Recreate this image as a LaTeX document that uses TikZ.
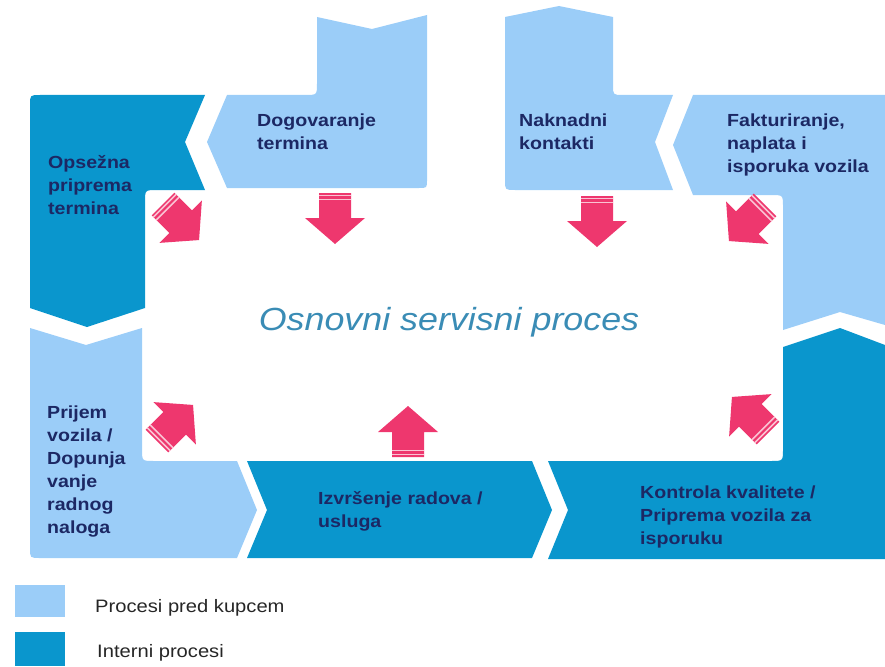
\documentclass[tikz,border=0pt]{standalone}
\usepackage{fontspec}
\setmainfont{Liberation Sans}[FakeStretch=1.12]
\definecolor{custblue}{RGB}{155,205,248}
\definecolor{intblue}{RGB}{10,150,205}
\definecolor{labnavy}{RGB}{28,40,100}
\definecolor{titleblue}{RGB}{58,140,181}
\definecolor{arrpink}{RGB}{238,55,110}
\begin{document}
\begin{tikzpicture}[x=1pt,y=-1pt,
  customer/.style={fill=custblue},
  internal/.style={fill=intblue},
  lab/.style={font=\fontsize{17.5}{23}\selectfont\bfseries,text=labnavy,align=left,anchor=north west,inner sep=0pt},
  legendtext/.style={font=\fontsize{18}{22}\selectfont,text=black!85,anchor=base west,inner sep=0pt},
  stripe/.style={draw=arrpink!30!white,line width=1.6pt}]
  \useasboundingbox (0,0) rectangle (885,666);
  % process shapes
  \fill[internal] (30,308) -- (30,105) .. controls (30,95) .. (40,95) -- (205,95) -- (185,142) -- (205,190)
    -- (157,190) .. controls (145,190) .. (145,202) -- (145,308) -- (87,327) -- cycle;
  \fill[customer] (227,95) -- (305,95) .. controls (317,95) .. (317,83) -- (317,17) -- (372,29) -- (427,15)
    -- (427,180) .. controls (427,188) .. (419,188) -- (227,188) -- (207,142) -- cycle;
  \fill[customer] (505,17) -- (559,6) -- (613,17) -- (613,85) .. controls (613,95) .. (623,95) -- (673,95)
    -- (655,142) -- (673,190) -- (515,190) .. controls (505,190) .. (505,180) -- cycle;
  \fill[customer] (693,95) -- (885,95) -- (885,325) -- (840,312) -- (783,330) -- (783,207)
    .. controls (783,195) .. (771,195) -- (693,195) -- (673,145) -- cycle;
  \fill[customer] (30,328) -- (86,345) -- (142,328) -- (142,449) .. controls (142,461) .. (154,461)
    -- (237,461) -- (257,510) -- (237,558) -- (40,558) .. controls (30,558) .. (30,548) -- cycle;
  \fill[internal] (247,461) -- (532,461) -- (552,510) -- (532,558) -- (247,558) -- (267,510) -- cycle;
  \fill[internal] (548,461) -- (771,461) .. controls (783,461) .. (783,449) -- (783,347) -- (840,328)
    -- (885,345) -- (885,559) -- (548,559) -- (568,510) -- cycle;
  % labels
  \node[lab] (opsezna) at (48,155) {Opsežna\\priprema\\termina};
  \node[lab] (dogovor) at (257,114) {Dogovaranje\\termina};
  \node[lab] (naknadni) at (519,114) {Naknadni\\kontakti};
  \node[lab] (faktura) at (727,114) {Fakturiranje,\\naplata i\\isporuka vozila};
  \node[lab] (prijem) at (47,406) {Prijem\\vozila /\\Dopunja\\vanje\\radnog\\naloga};
  \node[lab] (izvrsenje) at (318,491) {Izvršenje radova /\\usluga};
  \node[lab] (kontrola) at (640,486) {Kontrola kvalitete /\\Priprema vozila za\\isporuku};
  \node[font=\fontsize{32}{36}\selectfont\itshape,text=titleblue,anchor=base,inner sep=0pt] (osnovni) at (449,330) {Osnovni servisni proces};
  % arrows into the core process
  \foreach \px/\py/\ang in {335/193/0, 597/196/0, 163/204/45, 765/205/-45, 157/441/135, 408/457/180, 768/433/-135}{
    \begin{scope}[shift={(\px,\py)},rotate=\ang]
      \fill[arrpink] (-16,0) -- (16,0) -- (16,25) -- (30,25) -- (0,51) -- (-30,25) -- (-16,25) -- cycle;
      \draw[stripe] (-16,2.5) -- (16,2.5) (-16,6.5) -- (16,6.5);
    \end{scope}
  }
  % legend
  \fill[customer] (15,585) rectangle (65,617);
  \fill[internal] (15,632) rectangle (65,666);
  \node[legendtext] (lgcust) at (95,612) {Procesi pred kupcem};
  \node[legendtext] (lgint) at (97,657) {Interni procesi};
\end{tikzpicture}
\end{document}
